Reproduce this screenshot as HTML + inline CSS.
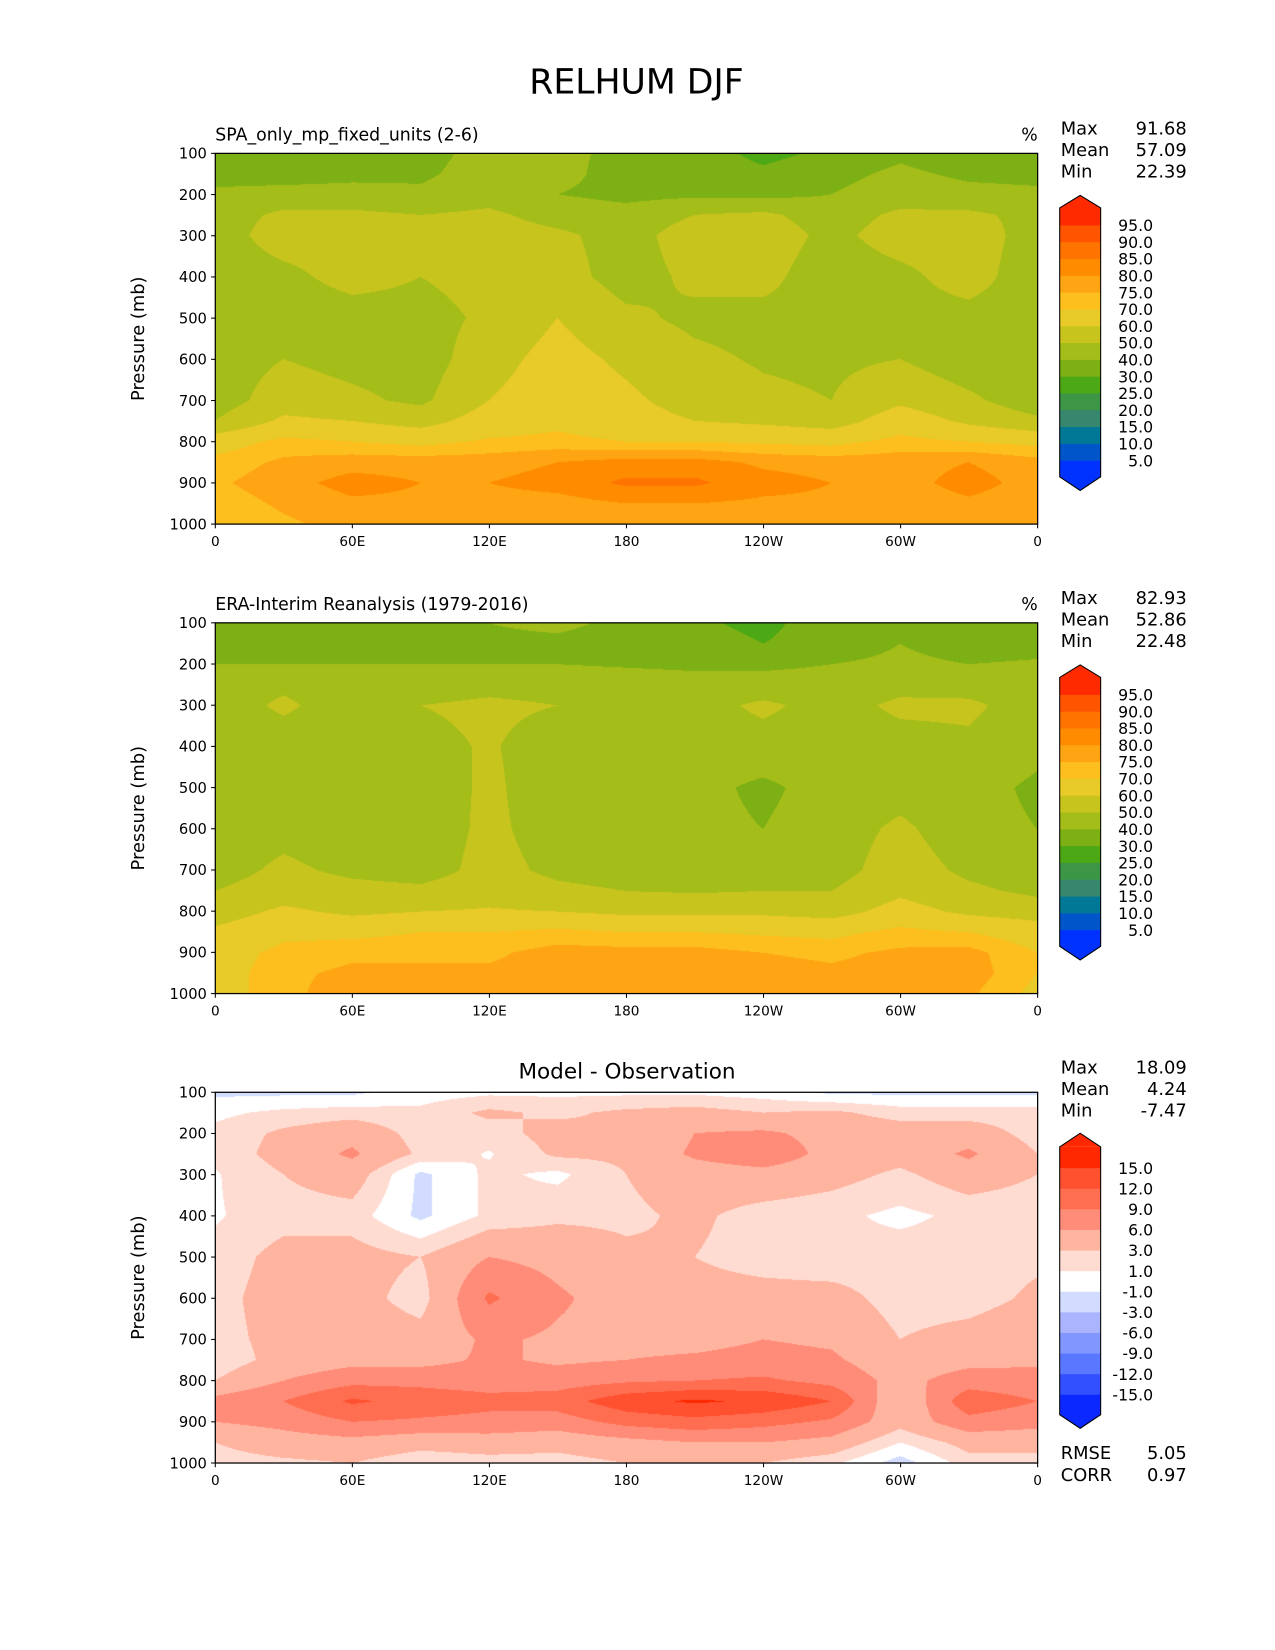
<!DOCTYPE html>
<html><head><meta charset="utf-8"><style>
html,body{margin:0;padding:0;background:#fff;}
#wrap{position:relative;width:1275px;height:1650px;overflow:hidden;}
#wrap svg{position:absolute;left:0;top:0;}
canvas{position:absolute;}
text{font-family:"DejaVu Sans","Liberation Sans",sans-serif;fill:#000;}
</style></head><body>
<div id="wrap">
<svg id="svg" width="1275" height="1650" viewBox="0 0 1214 1571">
<text x="606" y="89" font-size="33" text-anchor="middle">RELHUM DJF</text>
</svg>
</div>
<script>
// ---- data ----
const lons = [0,30,60,90,120,150,180,210,240,270,300,330,360];
const pres = [100,150,200,250,300,400,500,600,700,750,800,850,900,950,1000];
const modelRH = [
[35,35,35,36,44,42,38,35,27,32,38,33,35],
[36,35,37,38,45,43,36,36,32,37,42,38,37],
[42,44,44,42,46,40,37,38,37,40,45,43,42],
[45,52,52,50,52,46,44,50,52,45,52,52,47],
[45,55,55,53,55,52,46,55,56,47,55,56,45],
[44,47,54,50,54,54,46,52,53,44,47,55,43],
[44,43,45,46,52,60,52,48,47,47,46,46,44],
[45,50,47,45,56,64,58,52,49,48,50,44,44],
[45,55,52,48,60,66,62,56,52,50,58,52,44],
[50,62,60,56,65,68,64,60,58,55,66,58,52],
[66,72,70,68,71,72,70,70,69,68,72,70,68],
[72,76,78,78,78,80,82,82,79,78,78,80,77],
[74,78,82,80,80,82,86,86,82,80,78,82,78],
[72,76,79,79,78,78,80,80,79,79,77,79,77],
[70,74,77,78,77,77,77,77,77,76,76,76,76]];
const obsRH = [
[35,35,35,35,40,42,38,32,27,36,38,34,35],
[36,36,36,37,38,38,36,35,30,35,40,36,37],
[40,40,40,40,40,40,39,38,38,40,42,40,41],
[44,48,44,45,47,46,45,44,44,44,47,46,44],
[44,52,44,50,52,50,46,46,52,46,52,52,45],
[44,44,44,47,51,45,44,44,46,44,46,48,43],
[44,43,43,44,52,44,44,43,38,44,46,44,38],
[44,47,44,45,52,46,44,43,40,45,52,44,40],
[46,52,48,46,53,48,46,45,45,46,55,48,44],
[50,55,53,52,56,52,50,49,50,50,58,52,48],
[55,62,58,60,61,60,58,58,58,56,64,58,55],
[62,68,68,70,70,72,70,70,69,68,72,70,66],
[66,72,74,74,74,77,77,77,75,74,76,77,70],
[66,74,76,76,76,77,78,78,77,76,77,78,70],
[66,74,77,76,76,77,79,79,77,76,77,76,68]];
const diffRH = [
[-1.5,-1.5,-1.5,0,0.5,0.5,0.5,0.5,0,-1.5,-1.5,-1.5,-1.5],
[0.5,1.5,2,1.5,3.5,2.5,3.5,4,3,3.5,2,2,2],
[1.5,3.5,5,2,2,4,3,6,6.5,5,4.5,4.5,2],
[1.5,4,6.5,2.5,0.8,3.5,3.5,6.5,8,5,4,6.5,3],
[0.8,3,4.5,-1.5,1.5,0.5,3,4.5,5,4,2.5,4.5,3],
[0.8,2,2,-1.5,1.5,2.5,2.5,3.5,2,1.5,0.5,1.5,1.5],
[1.5,4,4,3,6,5,3.5,3,2,1.5,2,2,2.5],
[2,4.5,4,2,9.5,6.5,4.5,4,4,4,2,2,3.5],
[2,4,4.5,4,6.5,5.5,5,5,6,5.5,3,4,5],
[1.5,4,5,5,6.5,5.5,6,6.5,7,6.5,4,5,5.5],
[3,6,8,8,7.5,7.5,8.5,9,9.5,8,5,7.5,7],
[7,9,12.5,11,10,10.5,14,15.5,14.5,12,3,11,9],
[6,7,9,8.5,8,7.5,10,11,10,8.5,4,8,7],
[3,4.5,5,4,4.5,4,5,6,6,5,1,4,4],
[2,2.5,3,1.5,2,2,3,3,3,1.5,-2,2,2]];
const rhLevels = [5,10,15,20,25,30,40,50,60,70,75,80,85,90,95];
const rhColors = ['#0032ff','#0055c8','#007896','#37876e','#3c9646','#4ca814','#7db014','#a5bd19','#c8c41e','#e8ca28','#fcbf1e','#ffa514','#ff8c00','#ff7300','#ff5500','#ff2a00'];
const dLevels = [-15,-12,-9,-6,-3,-1,1,3,6,9,12,15];
const dColors = ['#0a28ff','#3250ff','#5a78ff','#8296ff','#aab4ff','#d2dcff','#ffffff','#ffdcd2','#ffb4a0','#ff8c78','#ff6e50','#ff5030','#ff2800'];
const xTickVals = [0,60,120,180,240,300,360];
const xTickLabels = ['0','60E','120E','180','120W','60W','0'];
const yTickVals = [100,200,300,400,500,600,700,800,900,1000];
const stats1 = ['91.68','57.09','22.39'];
const stats2 = ['82.93','52.86','22.48'];
const stats3 = ['18.09','4.24','-7.47'];
const rhTickLabels = ['5.0','10.0','15.0','20.0','25.0','30.0','40.0','50.0','60.0','70.0','75.0','80.0','85.0','90.0','95.0'];
const dTickLabels = ['-15.0','-12.0','-9.0','-6.0','-3.0','-1.0','1.0','3.0','6.0','9.0','12.0','15.0'];

// ---- layout ----
const S = 1275/1214;
const NS = 'http://www.w3.org/2000/svg';
const svg = document.getElementById('svg');
const wrap = document.getElementById('wrap');
const AX = {x0:205, x1:988, h:353};
function mk(tag, attrs, parent){ const e=document.createElementNS(NS,tag); for(const k in attrs) e.setAttribute(k,attrs[k]); (parent||svg).appendChild(e); return e; }
function txt(s,x,y,size,anchor,name,extra){ const t=mk('text',Object.assign({x:x,y:y,'font-size':size,'text-anchor':anchor||'start'},extra||{})); t.textContent=s;
 
 
 return t; }
function xs(lon){ return AX.x0 + (lon/360)*(AX.x1-AX.x0); }
function ysF(top){ return p => top + (p-100)/900*AX.h; }

function interp(grid, lon, p){
  let i=Math.min(Math.floor(lon/30),11); let fx=(lon-lons[i])/30;
  let j=0; while(j<pres.length-2 && p>pres[j+1]) j++;
  let fy=(p-pres[j])/(pres[j+1]-pres[j]);
  const a=grid[j][i],b=grid[j][i+1],c=grid[j+1][i],d=grid[j+1][i+1];
  return (a*(1-fx)+b*fx)*(1-fy)+(c*(1-fx)+d*fx)*fy;
}
function hexRGB(h){ return [parseInt(h.substr(1,2),16),parseInt(h.substr(3,2),16),parseInt(h.substr(5,2),16)]; }
function drawField(top, grid, levels, colors, name){
  const cv=document.createElement('canvas');
  const W=Math.round((AX.x1-AX.x0)*S), H=Math.round(AX.h*S);
  cv.width=W; cv.height=H;
  cv.style.left=(AX.x0*S)+'px'; cv.style.top=(top*S)+'px';
  
  
  wrap.insertBefore(cv, svg.nextSibling);
  const ctx=cv.getContext('2d'); const img=ctx.createImageData(W,H);
  const rgb=colors.map(hexRGB);
  for(let y=0;y<H;y++){ const p=100+900*(y+0.5)/H;
    for(let x=0;x<W;x++){ const lon=360*(x+0.5)/W;
      const v=interp(grid,lon,p); let k=0; while(k<levels.length && v>=levels[k]) k++;
      const c=rgb[k], o=(y*W+x)*4; img.data[o]=c[0];img.data[o+1]=c[1];img.data[o+2]=c[2];img.data[o+3]=255; } }
  ctx.putImageData(img,0,0);
}
function axes(top, idx){
  const ys=ysF(top);
  const g=mk('g',{});
  
  
  xTickVals.forEach((v,i)=>{ const x=xs(v);
    mk('line',{x1:x,x2:x,y1:top+AX.h,y2:top+AX.h+4,stroke:'#000','stroke-width':1},g);
    txt(xTickLabels[i],x,top+AX.h+21,13,'middle','x-tick-label'); });
  yTickVals.forEach(v=>{ const y=ys(v);
    mk('line',{x1:AX.x0-4,x2:AX.x0,y1:y,y2:y,stroke:'#000','stroke-width':1},g);
    txt(String(v),AX.x0-8,y+5,14,'end','y-tick-label'); });
  txt('Pressure (mb)',0,0,17,'middle','y-axis-title',{transform:'translate(137,'+(top+AX.h/2)+') rotate(-90)'});
}
function frameRect(top,idx){
  const o=document.createElementNS(NS,'svg'); o.setAttribute('width',1275);o.setAttribute('height',1650);o.setAttribute('viewBox','0 0 1214 1571');
  o.style.position='absolute';o.style.left='0';o.style.top='0';
  
  
  const r=document.createElementNS(NS,'rect'); r.setAttribute('x',AX.x0);r.setAttribute('y',top);r.setAttribute('width',AX.x1-AX.x0);r.setAttribute('height',AX.h);
  r.setAttribute('fill','none');r.setAttribute('stroke','#000');r.setAttribute('stroke-width','1.2');
  
  
  o.appendChild(r); wrap.appendChild(o);
}
function colorbar(tipTop, rectTop, rectBot, tipBot, levels, colors, labels, idx){
  const x0=1009,x1=1048,xm=(x0+x1)/2;
  const nb=levels.length+1;
  const bh=(rectBot-rectTop)/nb;
  const g=mk('g',{});
  
  
  for(let k=0;k<nb;k++){ const y=rectBot-(k+1)*bh;
    const r=mk('rect',{x:x0,y:y,width:x1-x0,height:bh+0.6,fill:colors[k]},g);
    
     }
  mk('polygon',{points:`${x0},${rectTop} ${xm},${tipTop} ${x1},${rectTop}`,fill:colors[colors.length-1]},g);
  mk('polygon',{points:`${x0},${rectBot} ${xm},${tipBot} ${x1},${rectBot}`,fill:colors[0]},g);
  mk('polygon',{points:`${x0},${rectTop} ${xm},${tipTop} ${x1},${rectTop} ${x1},${rectBot} ${xm},${tipBot} ${x0},${rectBot}`,fill:'none',stroke:'#000','stroke-width':1},g);
  levels.forEach((v,i)=>{ const y=rectBot-(i+1)*bh; txt(labels[i],1098,y+6,15,'end','colorbar-tick-label'); });
}
function statsBlock(y, vals, idx){
  ['Max','Mean','Min'].forEach((s,i)=>{ txt(s,1010,y+i*20.5,17,'start','stat-'+s.toLowerCase()+'-label'); txt(vals[i],1130,y+i*20.5,17,'end','stat-'+s.toLowerCase()+'-value'); });
}

const tops=[146,593,1040];
drawField(tops[0], modelRH, rhLevels, rhColors, 'model-contour-field');
drawField(tops[1], obsRH, rhLevels, rhColors, 'obs-contour-field');
drawField(tops[2], diffRH, dLevels, dColors, 'diff-contour-field');
tops.forEach((t,i)=>{ axes(t,i); frameRect(t,i); });

txt('SPA_only_mp_fixed_units (2-6)',205,134,16.5,'start','model-panel-title');
txt('%',988,134,16.5,'end','model-units');
txt('ERA-Interim Reanalysis (1979-2016)',205,581,16.5,'start','obs-panel-title');
txt('%',988,581,16.5,'end','obs-units');
txt('Model - Observation',597,1027,20.5,'middle','diff-panel-title');
statsBlock(128, stats1, 1);
statsBlock(575, stats2, 2);
statsBlock(1022, stats3, 3);
txt('RMSE',1010,1389,17,'start','rmse-label'); txt('5.05',1130,1389,17,'end','rmse-value');
txt('CORR',1010,1410,17,'start','corr-label'); txt('0.97',1130,1410,17,'end','corr-value');

colorbar(186,198,454,467, rhLevels, rhColors, rhTickLabels, 1);
colorbar(633,645,901,914, rhLevels, rhColors, rhTickLabels, 2);
colorbar(1079,1092,1347,1360, dLevels, dColors, dTickLabels, 3);
</script>
</body></html>
